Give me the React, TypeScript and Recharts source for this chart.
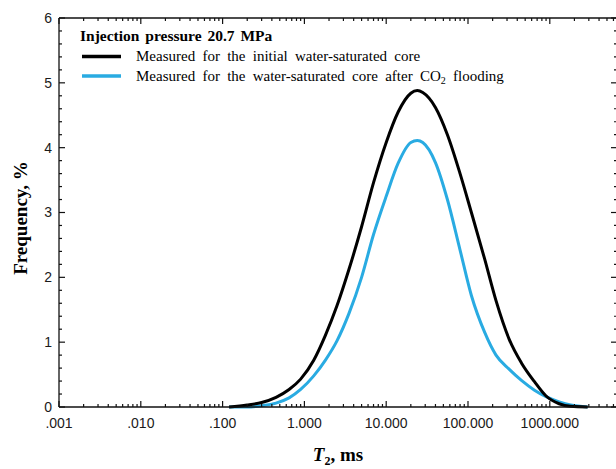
import React from "react";
import { LineChart, Line, XAxis, YAxis, Legend } from "recharts";

// T2 relaxation time (ms) and frequency (%)
const t2Values = [0.12, 0.2, 0.3, 0.45, 0.65, 0.9, 1.3, 1.8, 2.5, 3.5, 5, 7, 10, 14, 20, 24, 28, 40, 56, 80, 110, 160, 220, 320, 450, 650, 900, 1300, 1800, 2900];
const initialCore = [0, 0.03, 0.07, 0.15, 0.27, 0.43, 0.72, 1.1, 1.56, 2.12, 2.78, 3.46, 4.08, 4.55, 4.84, 4.88, 4.85, 4.62, 4.2, 3.6, 3.0, 2.28, 1.64, 1.04, 0.68, 0.39, 0.17, 0.05, 0.01, 0];
const afterCO2 = [0, 0, 0.02, 0.06, 0.14, 0.27, 0.48, 0.72, 1.02, 1.44, 2.0, 2.66, 3.25, 3.76, 4.08, 4.11, 4.08, 3.77, 3.2, 2.42, 1.72, 1.15, 0.8, 0.58, 0.41, 0.26, 0.16, 0.08, 0.03, 0];

const xMajorTicks = [0.001, 0.01, 0.1, 1, 10, 100, 1000];
const yMajorTicks = [0, 1, 2, 3, 4, 5, 6];
const legendTitle = "Injection pressure 20.7 MPa";
const initialName = "Measured for the initial water-saturated core";
const afterName = "Measured for the water-saturated core after CO2 flooding";

const X_DOMAIN: [number, number] = [0.001, 6630];
const Y_DOMAIN: [number, number] = [0, 6];

// all tick marks (major + minor) for the framed axes
const xAllTicks: number[] = [];
for (const d of xMajorTicks) {
  for (let m = 1; m <= 9; m++) {
    const v = d * m;
    if (v < X_DOMAIN[1]) xAllTicks.push(v);
  }
}
const yAllTicks: number[] = [];
for (let i = 0; i <= 30; i++) yAllTicks.push(i / 5);

const data = t2Values.map((t2, i) => ({ t2, initial: initialCore[i], after: afterCO2[i] }));

const AXIS = "#111";
const LABEL = "#1a1a1a";
const SANS = "'Liberation Sans', Arial, sans-serif";
const SERIF = "'Liberation Serif', 'Times New Roman', serif";

const isMajorX = (v: number) => xMajorTicks.some((t) => Math.abs(t - v) < t * 1e-6);
const isMajorY = (v: number) => Math.abs(v - Math.round(v)) < 1e-6;

const fmtX = (v: number) => {
  const s = v.toFixed(3);
  return v < 1 ? s.replace(/^0/, "") : s;
};

// inward tick marks (and labels for the bottom/left axes) at the positions the axes give
const bottomTick = (props: any) => {
  const { x, y, payload } = props;
  const major = isMajorX(payload.value);
  return (
    <g>
      <line x1={x} y1={y} x2={x} y2={y - (major ? 6 : 3)} stroke={AXIS} strokeWidth={1.2} />
      {major && (
        <text x={x} y={y + 11} dy="0.71em" textAnchor="middle" fontSize={14} fontFamily={SANS} fill={LABEL}>
          {fmtX(payload.value)}
        </text>
      )}
    </g>
  );
};

const leftTick = (props: any) => {
  const { x, y, payload } = props;
  const major = isMajorY(payload.value);
  return (
    <g>
      <line x1={x} y1={y} x2={x + (major ? 6 : 3)} y2={y} stroke={AXIS} strokeWidth={1.2} />
      {major && (
        <text x={x - 7} y={y} dy="0.355em" textAnchor="end" fontSize={14} fontFamily={SANS} fill={LABEL}>
          {payload.value}
        </text>
      )}
    </g>
  );
};

const topTick = (props: any) => {
  const { x, y, payload } = props;
  const major = isMajorX(payload.value);
  return <line x1={x} y1={y} x2={x} y2={y + (major ? 6 : 3)} stroke={AXIS} strokeWidth={1.2} />;
};

const rightTick = (props: any) => {
  const { x, y, payload } = props;
  const major = isMajorY(payload.value);
  return <line x1={x} y1={y} x2={x - (major ? 6 : 3)} y2={y} stroke={AXIS} strokeWidth={1.2} />;
};

const renderXTitle = (props: any) => {
  const vb = props.viewBox || {};
  const cx = vb.x + vb.width / 2;
  return (
    <text x={cx} y={461} textAnchor="middle" fontFamily={SERIF} fontWeight={700} fontSize={19} fill="#000">
      <tspan fontStyle="italic">T</tspan>
      <tspan fontSize={12} dy={4}>2</tspan>
      <tspan dy={-4}>, ms</tspan>
    </text>
  );
};

const renderYTitle = () => (
  <text
    x={20}
    y={218}
    transform="rotate(-90 20 218)"
    textAnchor="middle"
    dominantBaseline="central"
    fontFamily={SERIF}
    fontWeight={700}
    fontSize={19}
    fill="#000"
  >
    Frequency, %
  </text>
);

const legendOrder = ["initial", "after"];

const renderName = (name: string) => {
  const idx = name.indexOf("CO2");
  if (idx < 0) return name;
  return (
    <>
      {name.slice(0, idx + 2)}
      <tspan fontSize={10} dy={3}>2</tspan>
      <tspan dy={-3}>{name.slice(idx + 3)}</tspan>
    </>
  );
};

const renderLegend = (props: any) => {
  const payload = props.payload || [];
  const items = legendOrder
    .map((k) => payload.find((p: any) => p.dataKey === k))
    .filter(Boolean);
  return (
    <svg width={520} height={60} style={{ display: "block" }}>
      <text x={2} y={17} fontFamily={SERIF} fontWeight={700} fontSize={15.5} fill="#000" style={{ wordSpacing: 2 }}>
        {legendTitle}
      </text>
      {items.map((p: any, i: number) => (
        <g key={p.dataKey}>
          <line x1={4} x2={43} y1={32.5 + i * 19.5} y2={32.5 + i * 19.5} stroke={p.color} strokeWidth={3.5} />
          <text x={58} y={37 + i * 19.5} fontFamily={SERIF} fontSize={15} fill="#000" style={{ wordSpacing: 3.5 }}>
            {renderName(p.value)}
          </text>
        </g>
      ))}
    </svg>
  );
};

export default function App() {
  const frameLine = { stroke: AXIS, strokeWidth: 1.3 };
  return (
    <div style={{ position: "absolute", left: 0, top: 0, width: 616, height: 469, overflow: "hidden", background: "#fff" }}>
      <LineChart width={620} height={469} data={data} margin={{ top: 17, right: 3, bottom: 0, left: 0 }}>
        <XAxis
          dataKey="t2"
          type="number"
          scale="log"
          domain={X_DOMAIN}
          ticks={xAllTicks}
          interval={0}
          height={62}
          tickLine={false}
          tickSize={0}
          tickMargin={0}
          tick={bottomTick}
          axisLine={frameLine}
          label={renderXTitle}
        />
        <YAxis
          type="number"
          domain={Y_DOMAIN}
          ticks={yAllTicks}
          interval={0}
          width={59}
          tickLine={false}
          tickSize={0}
          tickMargin={0}
          tick={leftTick}
          axisLine={frameLine}
          label={renderYTitle}
        />
        {/* upper and right frame */}
        <XAxis
          xAxisId="frameTop"
          dataKey="t2"
          orientation="top"
          height={1}
          type="number"
          scale="log"
          domain={X_DOMAIN}
          ticks={xAllTicks}
          interval={0}
          tickLine={false}
          tickSize={0}
          tickMargin={0}
          tick={topTick}
          axisLine={frameLine}
        />
        <YAxis
          yAxisId="frameRight"
          orientation="right"
          mirror
          width={1}
          type="number"
          domain={Y_DOMAIN}
          allowDataOverflow
          ticks={yAllTicks}
          interval={0}
          tickLine={false}
          tickSize={0}
          tickMargin={0}
          tick={rightTick}
          axisLine={frameLine}
        />

        <Legend
          layout="vertical"
          align="center"
          verticalAlign="middle"
          content={renderLegend}
          wrapperStyle={{ left: 78, top: 24, width: 520, height: 60 }}
        />

        <Line
          dataKey="after"
          name={afterName}
          type="monotone"
          stroke="#29abe2"
          strokeWidth={3}
          dot={false}
          activeDot={false}
          isAnimationActive={false}
        />
        <Line
          dataKey="initial"
          name={initialName}
          type="monotone"
          stroke="#000"
          strokeWidth={3}
          dot={false}
          activeDot={false}
          isAnimationActive={false}
        />
      </LineChart>
    </div>
  );
}
